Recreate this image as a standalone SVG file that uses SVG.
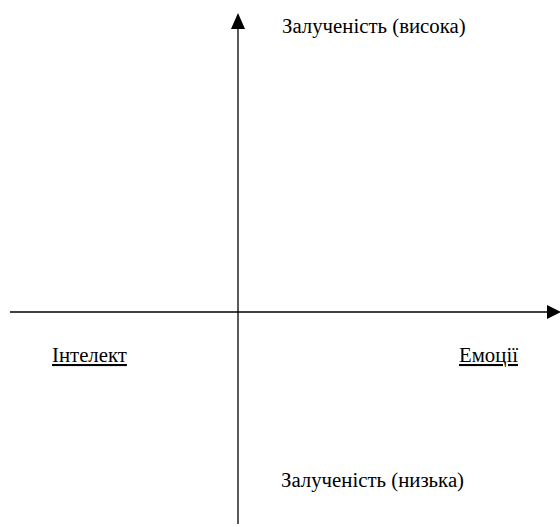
<svg xmlns="http://www.w3.org/2000/svg" width="560" height="527" viewBox="0 0 560 527">
<rect width="560" height="527" fill="#fff"/>
<g id="connectors" stroke="#000" stroke-width="1.3" fill="none">
<line x1="238" y1="524" x2="238" y2="26"/>
<path d="M231,29 L238,13 L245,29 z" fill="#000" stroke="none"/>
<line x1="10" y1="312" x2="549" y2="312"/>
<path d="M547,305 L561,312 L547,319 z" fill="#000" stroke="none"/>
</g>
<g id="high"><text font-family="Liberation Serif" font-size="20.8" x="282" y="33">Залученість (висока)</text></g>
<g id="intellect"><text font-family="Liberation Serif" font-size="20.8" text-decoration="underline" x="52" y="362">Інтелект</text></g>
<g id="emotions"><text font-family="Liberation Serif" font-size="20.8" text-decoration="underline" x="459" y="362">Емоції</text></g>
<g id="low"><text font-family="Liberation Serif" font-size="20.8" x="281" y="487">Залученість (низька)</text></g>
</svg>
